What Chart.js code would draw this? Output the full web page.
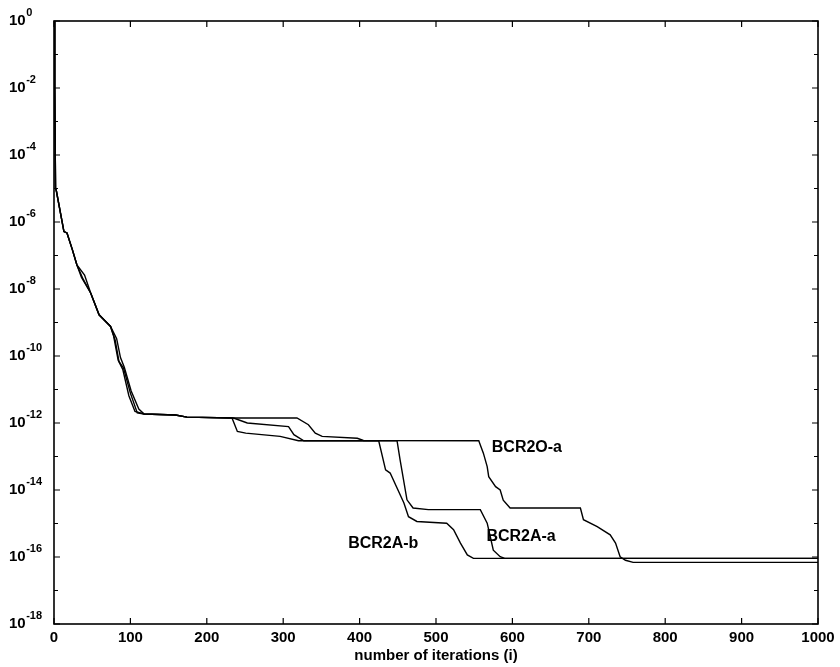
<!DOCTYPE html>
<html>
<head>
<meta charset="utf-8">
<title>Convergence</title>
<script src="https://cdn.jsdelivr.net/npm/chart.js@4/dist/chart.umd.min.js"></script>
<style>
  html, body { margin: 0; padding: 0; background: #fff; }
  #wrap { width: 840px; height: 667px; position: relative; }
</style>
</head>
<body>
<div id="wrap"><canvas id="conv"></canvas></div>
<script>
// iteration counts and error values for each run
const iterO = [0, 1, 2, 3, 13, 17, 24, 30, 38, 48, 59, 74, 80, 85, 91, 100, 109, 118, 159, 174, 235, 318, 333, 342, 351, 397, 405, 556, 558, 562, 567, 569, 578, 584, 588, 597, 689, 693, 711, 728, 735, 741, 748, 758, 1000];
const errO = [1, 1e-2, 1e-5, 8.7e-6, 5.2e-7, 4.7e-7, 1.5e-7, 5.2e-8, 2.0e-8, 7.6e-9, 1.7e-9, 7.6e-10, 3.0e-10, 6.9e-11, 4.4e-11, 7.8e-12, 2.0e-12, 1.86e-12, 1.74e-12, 1.5e-12, 1.41e-12, 1.41e-12, 8.9e-13, 5.0e-13, 4.0e-13, 3.5e-13, 3.0e-13, 2.95e-13, 2.2e-13, 1.26e-13, 5.0e-14, 2.5e-14, 1.26e-14, 1.0e-14, 5.0e-15, 2.9e-15, 2.9e-15, 1.3e-15, 8.1e-16, 4.6e-16, 2.6e-16, 1.02e-16, 8.0e-17, 6.9e-17, 6.9e-17];

const iterAa = [0, 1, 2, 3, 13, 17, 24, 30, 40, 48, 59, 74, 82, 87, 92, 101, 111, 118, 159, 174, 235, 253, 307, 314, 327, 449, 453, 462, 470, 490, 558, 567, 571, 575, 584, 590, 1000];
const errAa = [1, 1e-2, 1e-5, 8.7e-6, 5.2e-7, 4.7e-7, 1.5e-7, 5.2e-8, 2.6e-8, 7.6e-9, 1.7e-9, 7.6e-10, 3.3e-10, 9.0e-11, 4.6e-11, 9.0e-12, 2.6e-12, 1.86e-12, 1.74e-12, 1.5e-12, 1.41e-12, 1.0e-12, 7.8e-13, 4.5e-13, 2.95e-13, 2.95e-13, 7.9e-14, 5.1e-15, 2.9e-15, 2.6e-15, 2.6e-15, 1.02e-15, 4.1e-16, 1.6e-16, 1.02e-16, 9.1e-17, 9.1e-17];

const iterAb = [0, 1, 2, 3, 13, 17, 24, 30, 36, 48, 59, 74, 78, 84, 90, 98, 106, 118, 159, 174, 233, 240, 251, 296, 320, 425, 434, 440, 458, 464, 475, 514, 523, 532, 541, 549, 1000];
const errAb = [1, 1e-2, 1e-5, 8.7e-6, 5.2e-7, 4.7e-7, 1.5e-7, 5.2e-8, 2.2e-8, 7.6e-9, 1.7e-9, 7.6e-10, 4.0e-10, 7.5e-11, 4.0e-11, 6.5e-12, 2.2e-12, 1.86e-12, 1.74e-12, 1.5e-12, 1.41e-12, 5.6e-13, 5.0e-13, 4.0e-13, 2.95e-13, 2.95e-13, 4.0e-14, 3.2e-14, 4.1e-15, 1.6e-15, 1.15e-15, 1.02e-15, 6.5e-16, 2.6e-16, 1.15e-16, 9.1e-17, 9.1e-17];

const xTicks = [0, 100, 200, 300, 400, 500, 600, 700, 800, 900, 1000];
const yExponents = [0, -2, -4, -6, -8, -10, -12, -14, -16, -18];

// curve names, placed in data coordinates
const curveLabels = [
  { text: 'BCR2O-a', x: 573, y: 1.9e-13 },
  { text: 'BCR2A-a', x: 566, y: 4.1e-16 },
  { text: 'BCR2A-b', x: 385, y: 2.5e-16 }
];

const pairs = (xs, ys) => xs.map((x, i) => ({ x: x, y: ys[i] }));

const FONT = '"Liberation Sans", Arial, Helvetica, sans-serif';

const line = (label, data) => ({
  label: label,
  data: data,
  borderColor: '#000',
  borderWidth: 1.4,
  pointRadius: 0,
  tension: 0,
  fill: false
});

// frame, inward ticks and all axis text
const axesPlugin = {
  id: 'axesPlugin',
  afterDraw(chart) {
    const ctx = chart.ctx;
    const a = chart.chartArea;
    const xs = chart.scales.x;
    const ys = chart.scales.y;
    ctx.save();
    ctx.strokeStyle = '#000';
    ctx.fillStyle = '#000';
    ctx.lineWidth = 1.6;
    ctx.strokeRect(a.left, a.top, a.right - a.left, a.bottom - a.top);

    ctx.lineWidth = 1.2;
    ctx.beginPath();
    xTicks.forEach(v => {
      const px = xs.getPixelForValue(v);
      ctx.moveTo(px, a.bottom); ctx.lineTo(px, a.bottom - 6);
      ctx.moveTo(px, a.top); ctx.lineTo(px, a.top + 6);
    });
    for (let e = 0; e >= -18; e--) {
      const py = ys.getPixelForValue(Math.pow(10, e));
      const len = e % 2 === 0 ? 6 : 4;
      ctx.moveTo(a.left, py); ctx.lineTo(a.left + len, py);
      ctx.moveTo(a.right, py); ctx.lineTo(a.right - len, py);
    }
    ctx.stroke();

    // x tick labels
    ctx.font = 'bold 15px ' + FONT;
    ctx.textAlign = 'center';
    ctx.textBaseline = 'top';
    xTicks.forEach(v => {
      ctx.fillText(String(v), xs.getPixelForValue(v), a.bottom + 6);
    });

    // y tick labels as 10 with a raised exponent
    yExponents.forEach(e => {
      const py = ys.getPixelForValue(Math.pow(10, e));
      ctx.textAlign = 'left';
      ctx.textBaseline = 'middle';
      ctx.font = 'bold 15px ' + FONT;
      ctx.fillText('10', 9, py);
      const w = ctx.measureText('10').width;
      ctx.font = 'bold 11px ' + FONT;
      ctx.textBaseline = 'alphabetic';
      ctx.fillText(String(e), 9 + w + 0.5, py - 5);
    });

    // x axis title
    ctx.font = 'bold 15px ' + FONT;
    ctx.textAlign = 'center';
    ctx.textBaseline = 'top';
    ctx.fillText('number of iterations (i)', (a.left + a.right) / 2, a.bottom + 24);

    // curve names
    ctx.font = 'bold 16px ' + FONT;
    ctx.textAlign = 'left';
    ctx.textBaseline = 'middle';
    curveLabels.forEach(l => {
      ctx.fillText(l.text, xs.getPixelForValue(l.x), ys.getPixelForValue(l.y));
    });
    ctx.restore();
  }
};

new Chart(document.getElementById('conv'), {
  type: 'line',
  data: {
    datasets: [
      line('BCR2O-a', pairs(iterO, errO)),
      line('BCR2A-a', pairs(iterAa, errAa)),
      line('BCR2A-b', pairs(iterAb, errAb))
    ]
  },
  options: {
    responsive: true,
    maintainAspectRatio: false,
    animation: false,
    layout: { padding: { left: 54, right: 22, top: 21, bottom: 43 } },
    plugins: { legend: { display: false }, tooltip: { enabled: false } },
    scales: {
      x: { type: 'linear', min: 0, max: 1000, display: false },
      y: { type: 'logarithmic', min: 1e-18, max: 1, display: false }
    }
  },
  plugins: [axesPlugin]
});
</script>
</body>
</html>
